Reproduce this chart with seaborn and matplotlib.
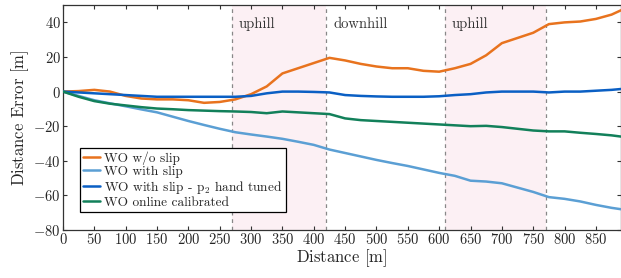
import numpy as np
import pandas as pd
import matplotlib
matplotlib.use("Agg")
import matplotlib.pyplot as plt
import seaborn as sns

distance = [0, 25, 50, 75, 100, 125, 150, 175, 200, 225, 250, 275, 300, 325, 350, 375,
            400, 425, 450, 475, 500, 525, 550, 575, 600, 625, 650, 675, 700, 725, 750,
            775, 800, 825, 850, 875, 890]
wo_no_slip = [0, 0.3, 1.0, 0, -2.5, -4, -4.5, -4.5, -5, -6.5, -6, -4.5, -1.5, 3, 10.5,
              13.5, 16.5, 19.5, 18, 16, 14.5, 13.5, 13.5, 12, 11.5, 13.5, 16, 21, 28, 31,
              34, 39, 40, 40.5, 42, 44.5, 47]
wo_slip = [0, -2.5, -5, -6.8, -8.5, -10.3, -12, -14.5, -17, -19.3, -21.5, -23.5, -24.8,
           -26, -27.3, -29, -30.8, -33.5, -35.5, -37.5, -39.5, -41.3, -43, -45, -47, -48.7,
           -51.5, -52, -53, -55.5, -58, -61, -62, -63.5, -65.5, -67.2, -68]
wo_slip_tuned = [0, -0.5, -1, -1.5, -2, -2.5, -3, -3, -3, -3, -3, -3, -2.5, -1, 0, 0,
                 -0.2, -0.5, -2, -2.5, -2.8, -3, -3, -3, -2.7, -2, -1.5, -0.5, 0, 0, 0,
                 -0.5, 0, 0, 0.5, 1, 1.5]
wo_online = [0, -3, -5.5, -7, -8, -9, -9.8, -10.2, -10.7, -11, -11.3, -11.5, -11.8, -12.5,
             -11.5, -12, -12.5, -13, -15.5, -16.5, -17, -17.5, -18, -18.5, -19, -19.5, -20,
             -19.8, -20.5, -21.5, -22.5, -23, -23, -23.8, -24.5, -25.3, -26]

labels = ["WO w/o slip", "WO with slip", r"WO with slip - p$_2$ hand tuned", "WO online calibrated"]
colors = ["#E8731E", "#5B9FD4", "#0A5FC4", "#12805A"]
regions = [(270, 420), (610, 770)]
region_labels = [(280, "uphill"), (432, "downhill"), (620, "uphill")]

frames = []
for lab, vals in zip(labels, [wo_no_slip, wo_slip, wo_slip_tuned, wo_online]):
    frames.append(pd.DataFrame({"Distance": distance, "Error": vals, "Series": lab}))
df = pd.concat(frames, ignore_index=True)

sns.set_style("ticks")
plt.rcParams["font.family"] = ["cmr10", "DejaVu Serif"]
plt.rcParams["mathtext.fontset"] = "cm"
plt.rcParams["axes.formatter.use_mathtext"] = True

fig = plt.figure(figsize=(6.21, 2.78), dpi=100)
ax = fig.add_axes([0.1014, 0.1727, 0.8986, 0.809])

for a, b in regions:
    ax.axvspan(a, b, color="#FCF0F4", zorder=0, lw=0)
for xv in [270, 420, 610, 770]:
    ax.axvline(xv, color="#888888", ls=(0, (3, 3)), lw=0.9, zorder=1)
for xv, t in region_labels:
    ax.text(xv, 39, t, fontsize=10.5, color="#333333", va="center", ha="left")

sns.lineplot(data=df, x="Distance", y="Error", hue="Series", palette=colors,
             hue_order=labels, lw=1.8, ax=ax, zorder=3)

ax.set_xlim(0, 890)
ax.set_ylim(-80, 50)
ax.set_xticks(np.arange(0, 851, 50))
ax.set_yticks(np.arange(-80, 41, 20))
ax.tick_params(direction="in", top=True, right=True, labelsize=10.5, length=3,
               pad=1.5, color="#333333")
ax.set_xlabel(r"Distance $[\mathrm{m}]$", fontsize=12, labelpad=0)
ax.set_ylabel(r"Distance Error $[\mathrm{m}]$", fontsize=12, labelpad=2)
for s in ax.spines.values():
    s.set_color("#333333")
    s.set_linewidth(0.9)

leg = ax.legend(loc="lower left", bbox_to_anchor=(0.03, 0.08), fontsize=9.6,
                frameon=True, fancybox=False, edgecolor="black", handlelength=1.3,
                handletextpad=0.3, labelspacing=0.05, borderpad=0.25, borderaxespad=0)
leg.get_frame().set_linewidth(0.9)
leg.get_frame().set_alpha(1)

fig.savefig("out.png", dpi=100)
